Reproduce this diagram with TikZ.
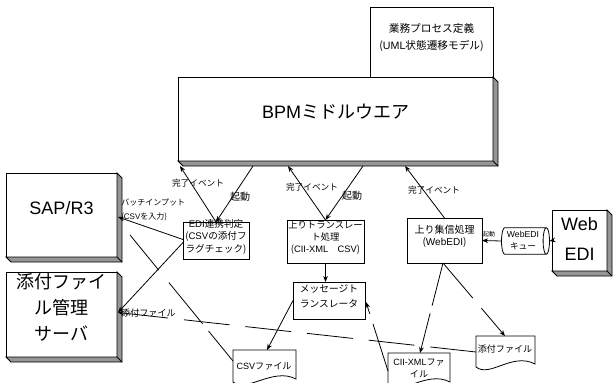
\documentclass[tikz,border=0pt]{standalone}
\usepackage{fontspec}
\setmainfont{Noto Sans CJK JP}
\newfontfamily\lat{Liberation Sans}
\usetikzlibrary{arrows.meta,shapes.geometric,fit,calc}
\definecolor{shadowgray}{RGB}{150,150,150}
\newcommand\extr[1]{%
  \draw[fill=shadowgray,line width=0.6pt] (#1.north east) -- ++(5,5) -- ($(#1.south east)+(5,5)$) -- ($(#1.south west)+(5,5)$) -- (#1.south west) -- (#1.south east) -- cycle;
  \draw[line width=0.6pt] (#1.south east) -- ++(5,5);}
\newcommand\docshape[1]{%
  \draw[line width=0.6pt,fill=white] (#1.south west) -- (#1.north west) -- (#1.north east) -- ($(#1.south east)+(0,-3)$)
    .. controls ($(#1.south east)+(-23,-15)$) and ($(#1.south west)+(14,11)$) .. (#1.south west) -- cycle;}
\begin{document}
\begin{tikzpicture}[x=0.75pt,y=-0.75pt,
  box/.style={draw,fill=white,inner sep=0pt,outer sep=0pt,line width=0.6pt,align=center},
  area/.style={inner sep=0pt,outer sep=0pt},
  conn/.style={line width=0.6pt,-{Stealth[length=4.5pt,width=3.5pt]}},
  plain/.style={line width=0.6pt},
  lbl/.style={inner sep=0pt,font=\fontsize{6.5}{8}\selectfont},
  doctext/.style={inner sep=0pt,align=center,font=\fontsize{6.8}{9}\selectfont}]
\useasboundingbox (0,0) rectangle (613,382);

% documents (drawn first)
\node[area,fit={(233,350) (296,382)}] (csv) {};
\node[area,fit={(388,353) (450,385)}] (cii) {};
\node[area,fit={(476,336) (535,367)}] (att) {};
\docshape{csv}
\docshape{cii}
\docshape{att}
\node[doctext] (csvt) at (264,366) {{\lat CSV}ファイル};
\node[doctext] (ciit) at (419,368) {{\lat CII-XML}ファ\\イル};
\node[doctext] (attt) at (505,349) {添付ファイル};

% main boxes
\node[box,fit={(370,7) (493,77)},font=\fontsize{8}{12.5}\selectfont] (proc) {業務プロセス定義\\({\lat UML}状態遷移モデル)};
\node[box,fit={(178,77) (493,161)},font=\fontsize{13.5}{16}\selectfont] (bpm) {{\lat BPM}ミドルウエア};
\extr{bpm}
\node[box,fit={(6,173) (117,257)},font=\fontsize{13.5}{16}\selectfont\lat] (sap) {SAP/R3};
\extr{sap}
\node[box,fit={(6,272) (117,357)},font=\fontsize{13.5}{19.5}\selectfont] (srv) {添付ファイ\\ル管理\\サーバ};
\extr{srv}
\node[box,fit={(552,210) (607,271)},label={[name=webt,align=center,inner sep=0pt,yshift=1.5pt,font=\fontsize{13.5}{22.5}\selectfont\lat]center:{Web\\EDI}}] (web) {};
\extr{web}

\node[box,fit={(183,222) (249,259)},font=\fontsize{7.2}{9.4}\selectfont] (edi) {{\lat EDI}連携判定\\({\lat CSV}の添付フ\\ラグチェック)};
\node[box,fit={(287,220) (364,263)},font=\fontsize{7}{9}\selectfont] (trans) {上りトランスレー\\ト処理\\({\lat CII-XML\quad CSV})};
\node[box,fit={(293,282) (365,319)},font=\fontsize{7.3}{11}\selectfont] (msg) {メッセージト\\ランスレータ};
\node[box,fit={(407,218) (482,263)},font=\fontsize{7.5}{9}\selectfont] (recv) {上り集信処理\\({\lat WebEDI})};
\node[cylinder,draw,fill=white,shape border rotate=0,aspect=0.3,minimum height=36pt,minimum width=20pt,inner sep=1pt,outer sep=0pt,line width=0.6pt,align=center,font=\fontsize{6.5}{9}\selectfont] (queue) at (523,241) {{\lat WebEDI}\\キュー};

% connectors to BPM
\draw[conn] (edi.north) -- ($(bpm.south west)+(2,5)$);
\draw[conn] ($(bpm.south west)+(75,5)$) -- (edi.north);
\draw[conn] (trans.north) -- ($(bpm.south west)+(110,5)$);
\draw[conn] ($(bpm.south west)+(185,5)$) -- (trans.north);
\draw[conn] (recv.north) -- ($(bpm.south west)+(227,5)$);
\node[lbl] (l1) at (198,183) {完了イベント};
\node[lbl,font=\fontsize{7.5}{9}\selectfont] (l2) at (240,197) {起動};
\node[lbl] (l3) at (312,187) {完了イベント};
\node[lbl,font=\fontsize{7.5}{9}\selectfont] (l4) at (352,196) {起動};
\node[lbl] (l5) at (434,190) {完了イベント};

% middle connectors
\draw[conn] (trans.south) -- (trans.south |- msg.north);
\draw[conn] (msg.west) -- ($(csv.north west)+(34,0)$);
\draw[conn,dash pattern=on 37pt off 8pt on 60pt] ($(cii.north west)+(0,18)$) -- ($(msg.south east)+(1,-17)$);
\draw[conn,dash pattern=on 33pt off 6pt on 60pt] ($(recv.south west)+(36,0)$) -- ($(cii.north west)+(32,0)$);
\draw[conn,dash pattern=on 34.5pt off 10pt on 60pt] ($(recv.south west)+(36,0)$) -- ($(att.north west)+(29,0)$);
\draw[conn] (queue.west) -- (recv.east);
\draw[conn] (web.west) -- (queue.east);
\node[lbl,font=\fontsize{4.5}{5}\selectfont] (l6) at (489,234) {起動};

% left connectors
\draw[conn] ($(edi.west)+(0,-1)$) -- ($(sap.east)+(1,2)$);
\draw[conn] ($(edi.west)+(0,2)$) -- ($(srv.east)+(1,-2)$);
\node[lbl,anchor=west,align=left,font=\fontsize{6}{10.5}\selectfont] (l7) at (121,210) {バッチインプット\\({\lat CSV}を入力)};
\node[lbl,anchor=west,font=\fontsize{6.8}{8}\selectfont] (l8) at (121,313) {添付ファイル};
\draw[conn,dash pattern=on 34.5pt off 12pt] ($(att.north west)+(0,16)$) -- ($(srv.east)+(1,-2)$);
\coordinate (csvend) at (130,235);
\draw[plain,dash pattern=on 29pt off 7pt on 40pt off 12pt on 40pt off 60pt] ($(csv.north west)+(0,11)$) -- (csvend);
\end{tikzpicture}
\end{document}
